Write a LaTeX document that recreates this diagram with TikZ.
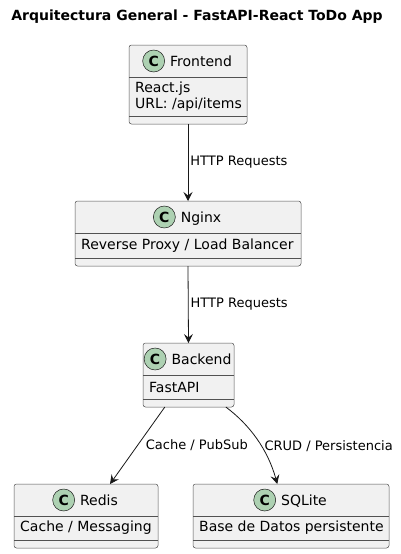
\documentclass[tikz,border=0pt]{standalone}
\usepackage{fontspec}
\setmainfont{DejaVu Sans}
\usepackage{tikz}
\usetikzlibrary{arrows.meta, calc, positioning}
\definecolor{umlline}{HTML}{181818}
\definecolor{umlfill}{HTML}{F1F1F1}
\definecolor{umlmark}{HTML}{ADD1B2}
\tikzset{
    classbox/.style={draw=umlline!75, fill=umlfill, line width=0.5pt, rounded corners=2.5pt, inner sep=0pt, outer sep=0pt},
    classmark/.style={circle, draw=umlline, fill=umlmark, line width=0.5pt, inner sep=0pt, minimum size=22pt, font=\fontsize{14}{16}\selectfont\bfseries},
    classname/.style={inner sep=0pt, text height=10.2pt, text depth=0pt, font=\fontsize{14}{16}\selectfont},
    member/.style={inner sep=0pt, align=left, anchor=west, font=\fontsize{14}{16.3}\selectfont},
    flow/.style={draw=umlline, line width=0.8pt, -{Stealth[length=9pt, width=9pt, inset=3.5pt]}},
    lbl/.style={inner sep=0pt, anchor=west, font=\fontsize{13}{15}\selectfont}
}
\newcommand{\umlclass}[7]{
    \node[classbox, anchor=north west, minimum width={(#4-#2)*1pt}, minimum height={(32+#5+8)*1pt}] (#1) at (#2, #3) {};
    \draw[umlline!75, line width=0.5pt]
    ($(#1.north west) + (0, 32)$) -- ($(#1.north east) + (0, 32)$)
    ($(#1.north west) + (0, 32+#5)$) -- ($(#1.north east) + (0, 32+#5)$);
    \node[classname] (#1-t) at ($(#1.north) + (13, 16)$) {#6};
    \node[classmark, left=5pt of #1-t] (#1-m) {C};
    \node[member] (#1-a) at ($(#1.north west) + (6, 32+#5/2)$) {#7};
}

\begin{document}
\begin{tikzpicture}[x=1pt, y=-1pt]
                        \useasboundingbox[fill=white] (0, 0) rectangle (400, 554);
                        \node[font=\fontsize{14}{16}\selectfont\bfseries] (title) at (197, 17) {Arquitectura General - FastAPI-React ToDo App};
                        \umlclass{f}{129}{45}{247}{39}{Frontend}{React.js\\URL: /api/items}
                        \umlclass{n}{75}{201}{301}{25}{Nginx}{Reverse Proxy / Load Balancer}
                        \umlclass{b}{143}{343}{234}{24}{Backend}{FastAPI}
                        \umlclass{r}{14}{484}{158}{24}{Redis}{Cache / Messaging}
                        \umlclass{s}{193}{484}{389}{24}{SQLite}{Base de Datos persistente}
                        \draw[flow] (f.south) -- (n.north) node[lbl, midway, right=2pt] {HTTP Requests};
                        \draw[flow] (n.south) -- (b.north) node[lbl, midway, right=2pt] {HTTP Requests};
                        \draw[flow] ($(b.south west)!0.24!(b.south east)$) -- ($(r.north west)!0.667!(r.north east)$) node[lbl, midway, right=8pt] {Cache / PubSub};
                        \draw[flow] ($(b.south west)!0.91!(b.south east)$) .. controls (250, 425) and (268, 450) .. ($(s.north west)!0.43!(s.north east)$) node[lbl, pos=0.58, right=3pt] {CRUD / Persistencia};
                    \end{tikzpicture}
\end{document}
